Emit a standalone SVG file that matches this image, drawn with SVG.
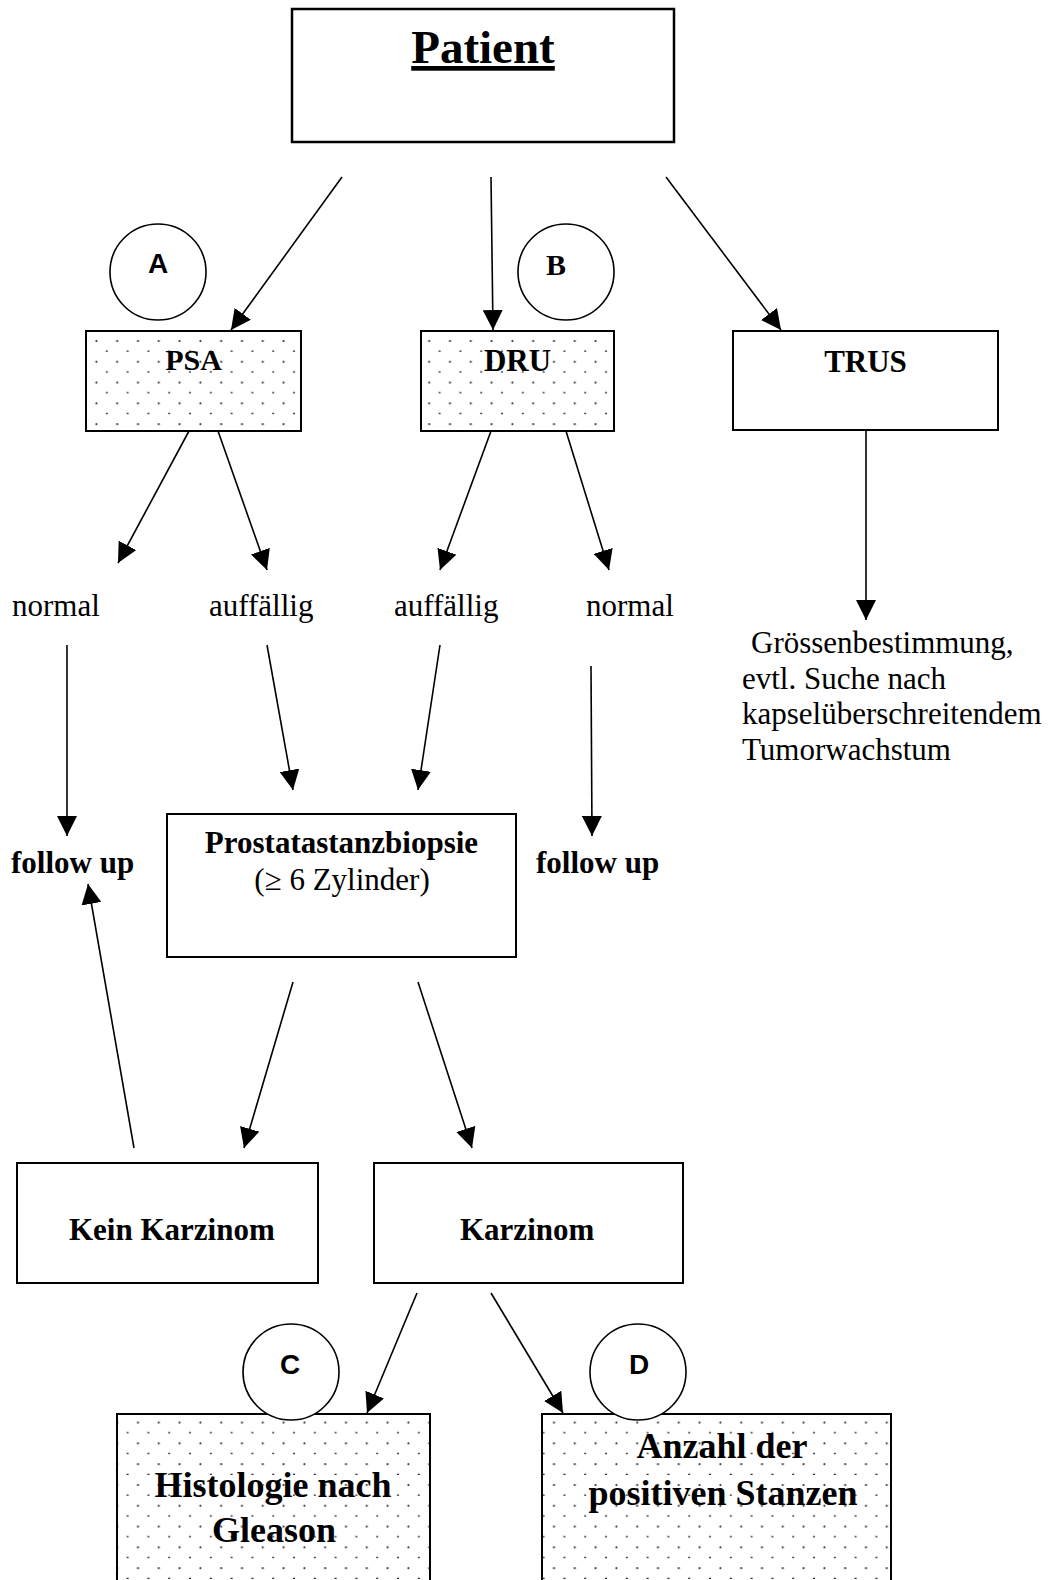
<svg xmlns="http://www.w3.org/2000/svg" width="1054" height="1580" viewBox="0 0 1054 1580">
<style>
.box{fill:#fff;stroke:#000;stroke-width:2}
.dots{fill:url(#dots);stroke:none}
.circ{fill:#fff;stroke:#000;stroke-width:1.6}
.t{font-family:"Liberation Serif","Times New Roman",serif;font-size:31px;fill:#000}
.b{font-weight:bold}
.big{font-size:36px}
.s{font-family:"Liberation Sans",Arial,sans-serif;font-weight:bold;font-size:28px;fill:#000}
.c{text-anchor:middle}
#connectors line{stroke:#000;stroke-width:1.6;marker-end:url(#arr)}
</style>
<defs>
<pattern id="dots" patternUnits="userSpaceOnUse" x="86" y="331" width="20.8" height="20.8">
<circle cx="10.4" cy="10" r="1.1" fill="#333"/>
<circle cx="20.8" cy="20.4" r="1.1" fill="#333"/>
<circle cx="0" cy="20.4" r="1.1" fill="#333"/>
</pattern>
<marker id="arr" markerUnits="userSpaceOnUse" markerWidth="21" markerHeight="20" refX="20" refY="10" orient="auto">
<path d="M0,0 L20,10 L0,20 z" fill="#000"/>
</marker>
</defs>
<rect width="1054" height="1580" fill="#fff"/>

<g id="connectors">
<line x1="342" y1="177" x2="231" y2="330"/>
<line x1="491" y1="177" x2="493" y2="330"/>
<line x1="666" y1="177" x2="781" y2="330"/>
<line x1="189" y1="431" x2="118" y2="563"/>
<line x1="218" y1="431" x2="267" y2="570"/>
<line x1="491" y1="431" x2="440" y2="570"/>
<line x1="566" y1="431" x2="609" y2="570"/>
<line x1="866" y1="431" x2="866" y2="620"/>
<line x1="67" y1="645" x2="67" y2="836"/>
<line x1="267" y1="645" x2="293" y2="790"/>
<line x1="440" y1="645" x2="418" y2="790"/>
<line x1="591" y1="666" x2="592" y2="836"/>
<line x1="134" y1="1148" x2="88" y2="884"/>
<line x1="293" y1="982" x2="244" y2="1148"/>
<line x1="418" y1="982" x2="472" y2="1148"/>
<line x1="417" y1="1293" x2="367" y2="1413"/>
<line x1="491" y1="1293" x2="563" y2="1413"/>
</g>

<g id="patient">
<rect class="box" x="292" y="9" width="382" height="133" style="stroke-width:2.5"/>
<text class="t b c" x="483" y="63" style="font-size:47px;text-decoration:underline">Patient</text>
</g>

<g id="circleA">
<circle class="circ" cx="158" cy="272" r="48"/>
<text class="s c" x="158" y="273">A</text>
</g>
<g id="circleB">
<circle class="circ" cx="566" cy="272" r="48"/>
<text class="t b c" x="556" y="275" style="font-size:30px">B</text>
</g>

<g id="psa">
<rect class="box" x="86" y="331" width="215" height="100"/>
<rect class="dots" x="87" y="332" width="213" height="98"/>
<text class="t b c" x="193.5" y="370" style="font-size:30px">PSA</text>
</g>
<g id="dru">
<rect class="box" x="421" y="331" width="193" height="100"/>
<rect class="dots" x="422" y="332" width="191" height="98"/>
<text class="t b c" x="517.5" y="371">DRU</text>
</g>
<g id="trus">
<rect class="box" x="733" y="331" width="265" height="99"/>
<text class="t b c" x="865.5" y="372">TRUS</text>
</g>

<g id="psa-normal"><text class="t" x="12" y="616">normal</text></g>
<g id="psa-auffaellig"><text class="t" x="209" y="616">auffällig</text></g>
<g id="dru-auffaellig"><text class="t" x="394" y="616">auffällig</text></g>
<g id="dru-normal"><text class="t" x="586" y="616">normal</text></g>

<g id="trus-text">
<text class="t" x="751" y="653">Grössenbestimmung,</text>
<text class="t" x="742" y="689">evtl. Suche nach</text>
<text class="t" x="742" y="724">kapselüberschreitendem</text>
<text class="t" x="742" y="760">Tumorwachstum</text>
</g>

<g id="followup-left"><text class="t b" x="11" y="873">follow up</text></g>
<g id="followup-right"><text class="t b" x="536" y="873">follow up</text></g>

<g id="biopsie">
<rect class="box" x="167" y="814" width="349" height="143"/>
<text class="t b c" x="341.5" y="853">Prostatastanzbiopsie</text>
<text class="t c" x="342" y="890">(≥ 6 Zylinder)</text>
</g>

<g id="kein-karzinom">
<rect class="box" x="17" y="1163" width="301" height="120"/>
<text class="t b" x="69" y="1240">Kein Karzinom</text>
</g>
<g id="karzinom">
<rect class="box" x="374" y="1163" width="309" height="120"/>
<text class="t b" x="460" y="1240">Karzinom</text>
</g>

<g id="histologie">
<rect class="box" x="117" y="1414" width="313" height="190"/>
<rect class="dots" x="118" y="1415" width="311" height="170"/>
<text class="t b big c" x="273" y="1497">Histologie nach</text>
<text class="t b big c" x="274" y="1542">Gleason</text>
</g>
<g id="anzahl">
<rect class="box" x="542" y="1414" width="349" height="190"/>
<rect class="dots" x="543" y="1415" width="347" height="170"/>
<text class="t b big c" x="722" y="1458">Anzahl der</text>
<text class="t b big c" x="723" y="1505">positiven Stanzen</text>
</g>

<g id="circleC">
<circle class="circ" cx="291" cy="1372" r="48"/>
<text class="s c" x="290" y="1374">C</text>
</g>
<g id="circleD">
<circle class="circ" cx="638" cy="1372" r="48"/>
<text class="s c" x="639" y="1374">D</text>
</g>
</svg>
